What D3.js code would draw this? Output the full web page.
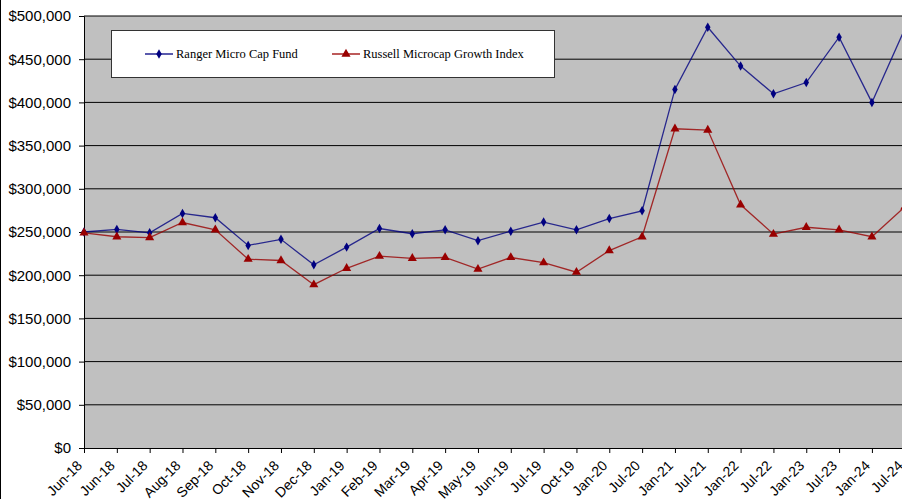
<!DOCTYPE html>
<html>
<head>
<meta charset="utf-8">
<script src="https://cdn.jsdelivr.net/npm/d3@7"></script>
<style>
  body { margin: 0; background: #fff; overflow: hidden; }
  svg { display: block; }
</style>
</head>
<body>
<div id="chart"></div>
<script>
// Data
const dates = ["Jun-18", "Jun-18", "Jul-18", "Aug-18", "Sep-18", "Oct-18", "Nov-18", "Dec-18",
  "Jan-19", "Feb-19", "Mar-19", "Apr-19", "May-19", "Jun-19", "Jul-19", "Oct-19", "Jan-20",
  "Jul-20", "Jan-21", "Jul-21", "Jan-22", "Jul-22", "Jan-23", "Jul-23", "Jan-24", "Jul-24"];
const ranger = [250000, 253000, 249000, 271500, 266500, 234500, 241500, 212000,
  232500, 254000, 248000, 252500, 240000, 251000, 261500, 252500, 265500,
  274500, 415000, 487000, 442000, 410000, 423000, 475500, 400000, 485000];
const russell = [249000, 244500, 243500, 261000, 252500, 218500, 217000, 189000,
  208000, 222000, 219500, 220500, 207000, 220500, 214500, 203500, 228500,
  244500, 369500, 368000, 281500, 247500, 255500, 252500, 244500, 279000];
const yTicks = [0, 50000, 100000, 150000, 200000, 250000, 300000, 350000, 400000, 450000, 500000];

const W = 902, H = 499;
const margin = {top: 16, left: 84};
const height = 432;
const step = 32.83;
const width = step * (dates.length - 1);

const svg = d3.select("#chart").append("svg")
    .attr("width", W)
    .attr("height", H);

// outer border on the left
svg.append("line")
    .attr("x1", 0.5).attr("x2", 0.5)
    .attr("y1", 0).attr("y2", H)
    .attr("stroke", "#000");

const g = svg.append("g")
    .attr("transform", `translate(${margin.left},${margin.top})`);

const x = d3.scalePoint()
    .domain(d3.range(dates.length))
    .range([0, width]);

const y = d3.scaleLinear()
    .domain([0, 500000])
    .range([height, 0]);

// plot background
g.append("rect")
    .attr("x", 0).attr("y", 0)
    .attr("width", W - margin.left + 10)
    .attr("height", height)
    .attr("fill", "#c0c0c0");

// gridlines
g.selectAll(".grid")
    .data(yTicks.filter(d => d > 0))
    .join("line")
    .attr("x1", 0).attr("x2", W)
    .attr("y1", d => y(d)).attr("y2", d => y(d))
    .attr("stroke", "#000")
    .attr("stroke-width", 1);

// y axis
const yAxis = g.append("g")
    .call(d3.axisLeft(y).tickValues(yTicks).tickSize(5).tickPadding(8)
        .tickFormat(d => "$" + d3.format(",")(d)));
yAxis.select(".domain").attr("stroke", "#000");
yAxis.selectAll("text")
    .style("font-family", "'Liberation Sans', Arial, sans-serif")
    .style("font-size", "15px")
    .attr("fill", "#000");

// x axis
const xAxis = g.append("g")
    .attr("transform", `translate(0,${height})`)
    .call(d3.axisBottom(x).tickSize(5).tickSizeOuter(0).tickFormat(i => dates[i]));
xAxis.select(".domain").attr("d", `M0,0.5H${W}`).attr("stroke", "#000");
xAxis.selectAll("text")
    .style("font-family", "'Liberation Sans', Arial, sans-serif")
    .style("font-size", "14px")
    .attr("fill", "#000")
    .attr("text-anchor", "end")
    .attr("dy", "0.35em")
    .attr("transform", "translate(-5,15) rotate(-45)")
    .attr("y", 0).attr("x", 0);

// series
const series = [
  {name: "Ranger Micro Cap Fund", values: ranger, color: "#000080", shape: d3.symbolDiamond, size: 26},
  {name: "Russell Microcap Growth Index", values: russell, color: "#990000", shape: d3.symbolTriangle, size: 36}
];

const line = d3.line()
    .x((d, i) => x(i))
    .y(d => y(d));

series.forEach(s => {
  g.append("path")
      .datum(s.values)
      .attr("fill", "none")
      .attr("stroke", s.color)
      .attr("stroke-opacity", 0.8)
      .attr("stroke-width", 1.3)
      .attr("d", line);

  g.selectAll(null)
      .data(s.values)
      .join("path")
      .attr("d", d3.symbol().type(s.shape).size(s.size))
      .attr("transform", (d, i) => `translate(${x(i)},${y(d)})`)
      .attr("fill", s.color);
});

// legend
const legend = svg.append("g");
legend.append("rect")
    .attr("x", 111.5).attr("y", 30.5)
    .attr("width", 443).attr("height", 47)
    .attr("fill", "#fff")
    .attr("stroke", "#333");

const legendX = [145, 332];
series.forEach((s, i) => {
  const lg = legend.append("g").attr("transform", `translate(${legendX[i]},54)`);
  lg.append("line")
      .attr("x1", 0).attr("x2", 28)
      .attr("stroke", s.color)
      .attr("stroke-width", 1.3);
  lg.append("path")
      .attr("d", d3.symbol().type(s.shape).size(s.size))
      .attr("transform", "translate(14,0)")
      .attr("fill", s.color);
  lg.append("text")
      .attr("x", 31)
      .attr("dy", "0.35em")
      .style("font-family", "'Liberation Serif', 'Times New Roman', serif")
      .style("font-size", "12.5px")
      .attr("fill", "#000")
      .text(s.name);
});
</script>
</body>
</html>
